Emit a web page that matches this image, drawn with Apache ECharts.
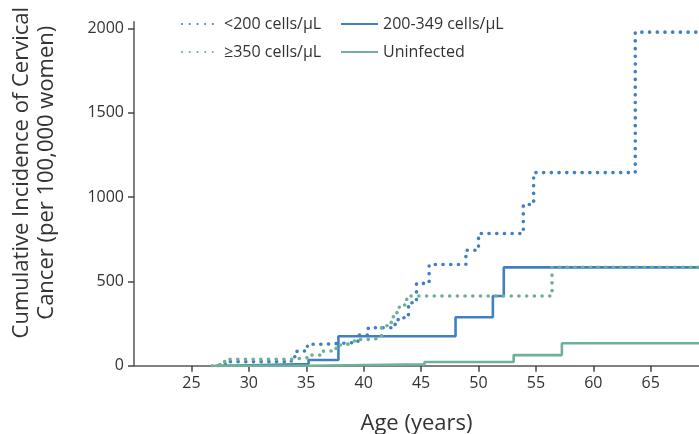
<!DOCTYPE html>
<html>
<head>
<meta charset="utf-8">
<script src="https://cdn.jsdelivr.net/npm/echarts@6/dist/echarts.min.js"></script>
<style>
  html, body { margin: 0; padding: 0; background: #fff; }
  #myChart { width: 699px; height: 434px; }
</style>
</head>
<body>
<div id="myChart"></div>
<script>
// tick labels
var xTicks = [25, 30, 35, 40, 45, 50, 55, 60, 65]
var yTicks = [0, 500, 1000, 1500, 2000]

// step curves: [age, cumulative incidence]
var below200 = [
  [27.3, 0], [27.6, 8], [28.0, 24], [33.7, 53], [34.2, 87], [35.1, 127],
  [36.5, 138], [39.5, 182], [40.4, 225], [42.7, 245], [43.0, 284],
  [43.9, 373], [44.6, 488], [45.7, 600], [48.9, 685], [50.0, 784],
  [53.9, 956], [54.8, 1145], [63.65, 1978], [69.2, 1978]
]
var mid200to349 = [
  [27.4, 0], [28.0, 10], [35.2, 34], [37.8, 175], [48.0, 287],
  [51.25, 413], [52.2, 583], [69.2, 583]
]
var above350 = [
  [26.8, 0], [27.0, 8], [27.6, 24], [28.2, 38], [33.7, 47], [35.1, 63],
  [36.5, 87], [37.6, 103], [37.9, 123], [38.4, 133], [38.8, 142],
  [39.2, 156], [40.7, 166], [41.55, 237], [42.4, 290], [42.9, 340],
  [43.1, 360], [43.75, 413], [56.4, 583], [69.2, 583]
]
var uninfected = [
  [27.0, 0], [35.2, 8], [45.3, 22], [53.06, 63], [57.26, 133], [69.2, 133]
]

var blue = '#3f80c2'
var green = '#70b096'
var font = '"Open Sans", "Noto Sans", sans-serif'

function stepSeries (name, data, color, dotted) {
  return {
    name: name,
    type: 'line',
    step: 'end',
    symbol: 'none',
    data: data,
    lineStyle: dotted
      ? { color: color, width: 3.6, type: [0.1, 7.6], cap: 'round' }
      : { color: color, width: 2.6 },
    itemStyle: { color: color }
  }
}

var legendBase = {
  orient: 'vertical',
  top: 11,
  itemWidth: 37,
  itemHeight: 14,
  itemGap: 12,
  itemStyle: { opacity: 0 },
  textStyle: { fontFamily: font, fontSize: 16, color: '#333' }
}

var option = {
  animation: false,
  legend: [
    Object.assign({}, legendBase, { left: 176, data: ['<200 cells/μL', '≥350 cells/μL'] }),
    Object.assign({}, legendBase, { left: 335, data: ['200-349 cells/μL', 'Uninfected'] })
  ],
  grid: { left: 134, right: 0, top: 21.7, bottom: 68.3, outerBoundsMode: 'none', containLabel: false },
  xAxis: {
    type: 'value',
    min: 20,
    max: 69.2,
    name: 'Age (years)',
    nameLocation: 'middle',
    nameGap: 47,
    nameTextStyle: { fontFamily: font, fontSize: 22, color: '#333' },
    axisLine: { lineStyle: { color: '#555', width: 1.5 } },
    axisTick: { customValues: xTicks, length: 6, lineStyle: { color: '#444', width: 1.5 } },
    axisLabel: { customValues: xTicks, fontFamily: font, fontSize: 16, color: '#333', margin: 10 },
    splitLine: { show: false }
  },
  yAxis: {
    type: 'value',
    min: 0,
    max: 2040,
    name: 'Cumulative Incidence of Cervical\nCancer (per 100,000 women)',
    nameLocation: 'middle',
    nameGap: 75,
    nameTextStyle: { fontFamily: font, fontSize: 22, color: '#333', lineHeight: 25, padding: [0, 0, 0, 42] },
    axisLine: { show: true, lineStyle: { color: '#555', width: 1.5 } },
    axisTick: { show: true, customValues: yTicks, length: 6, lineStyle: { color: '#444', width: 1.5 } },
    axisLabel: {
      customValues: yTicks,
      formatter: function (v) { return String(v) },
      fontFamily: font, fontSize: 16, color: '#333', margin: 10
    },
    splitLine: { show: false }
  },
  series: [
    stepSeries('<200 cells/μL', below200, blue, true),
    stepSeries('200-349 cells/μL', mid200to349, blue, false),
    stepSeries('≥350 cells/μL', above350, green, true),
    stepSeries('Uninfected', uninfected, green, false)
  ]
}

var myChart = echarts.init(document.getElementById('myChart'))
myChart.setOption(option)
</script>
</body>
</html>
